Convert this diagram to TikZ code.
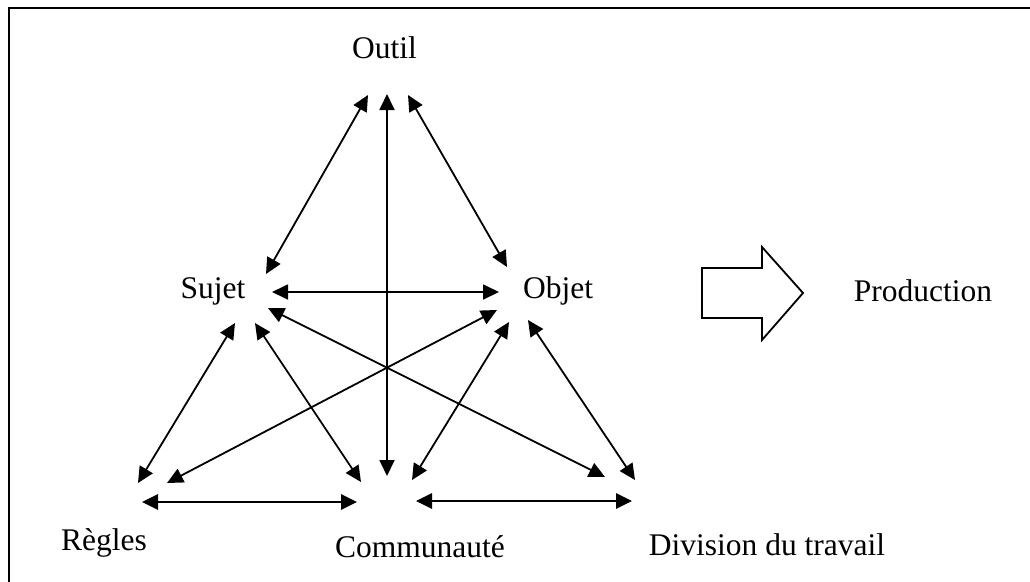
\documentclass[tikz,border=0pt]{standalone}
\usepackage{fontspec}
\setmainfont{Liberation Serif}
\usetikzlibrary{arrows.meta}
\begin{document}
\begin{tikzpicture}[x=1pt,y=-1pt,
  lbl/.style={inner sep=0pt,anchor=base,font=\fontsize{31.5}{38}\selectfont},
  link/.style={line width=1.8pt,{Triangle[length=16pt,width=15pt]}-{Triangle[length=16pt,width=15pt]}},
  blink/.style={line width=2.8pt,{Triangle[length=16pt,width=15pt]}-{Triangle[length=16pt,width=15pt]}},
  frame/.style={line width=2pt},
  bigarrow/.style={line width=1.8pt,line join=miter}]
\useasboundingbox (0,0) rectangle (1030,581);
% frame (only top and left edges are visible)
\coordinate (fTR) at (1035,7.5);
\coordinate (fTL) at (9,7.5);
\coordinate (fBL) at (9,590);
\draw[frame] (fTR) -- (fTL) -- (fBL);
% labels
\node[lbl] (outil) at (384.5,58) {Outil};
\node[lbl] (sujet) at (213,298) {Sujet};
\node[lbl] (objet) at (558,298) {Objet};
\node[lbl] (regles) at (104,550) {Règles};
\node[lbl] (comm) at (420,557) {Communauté};
\node[lbl] (div) at (767,555) {Division du travail};
\node[lbl] (prod) at (923,301) {Production};
% arrow end points
\coordinate (oS) at (368,95);   \coordinate (sO) at (266,274);
\coordinate (oB) at (408,95);   \coordinate (bO) at (507,267);
\coordinate (oC) at (387,94);   \coordinate (cO) at (387,476);
\coordinate (sB) at (272,292);  \coordinate (bS) at (499,292);
\coordinate (sR) at (235,323);  \coordinate (rS) at (138,483);
\coordinate (sC) at (255,323);  \coordinate (cS) at (361,482);
\coordinate (sD) at (268,308);  \coordinate (dS) at (605,477);
\coordinate (bR) at (497,310);  \coordinate (rB) at (167,483);
\coordinate (bC) at (509,322);  \coordinate (cB) at (412,480);
\coordinate (bD) at (528,320);  \coordinate (dB) at (635,480);
\coordinate (rC) at (142,502);  \coordinate (cR) at (357,502);
\coordinate (cD) at (416,501);  \coordinate (dC) at (632,501);
% connectors
\draw[link] (oS) -- (sO);
\draw[link] (oB) -- (bO);
\draw[link] (oC) -- (cO);
\draw[link] (sB) -- (bS);
\draw[link] (sR) -- (rS);
\draw[link] (sC) -- (cS);
\draw[link] (sD) -- (dS);
\draw[link] (bR) -- (rB);
\draw[link] (bC) -- (cB);
\draw[link] (bD) -- (dB);
\draw[blink] (rC) -- (cR);
\draw[blink] (cD) -- (dC);
% block arrow towards Production
\draw[bigarrow] (702,268) -- (762,268) -- (762,247) -- (803,293) -- (762,340) -- (762,318) -- (702,318) -- cycle;
\end{tikzpicture}
\end{document}
